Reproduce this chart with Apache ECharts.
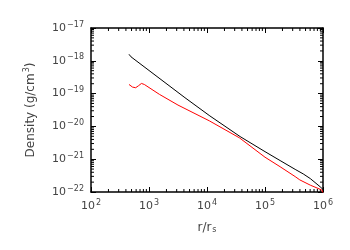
<!DOCTYPE html>
<html>
<head>
<meta charset="utf-8">
<script src="https://cdn.jsdelivr.net/npm/echarts@6/dist/echarts.min.js"></script>
<style>
  html, body { margin: 0; padding: 0; background: #fff; }
  #chart { width: 350px; height: 250px; }
</style>
</head>
<body>
<div id="chart"></div>
<script>
// radius in r_s, density in g/cm^3
var blackR   = [452, 490, 4170, 11200, 37200, 100000, 182000, 331000, 457000, 603000, 891000, 1000000];
var blackRho = [1.58e-18, 1.32e-18, 7.5e-20, 2.09e-20, 4.9e-21, 1.7e-21, 9.1e-22, 4.9e-22, 3.55e-22, 2.57e-22, 1.45e-22, 1.2e-22];

var redR   = [452, 520, 589, 660, 741, 830, 1510, 3160, 10960, 36300, 100000, 182000, 331000, 398000, 603000, 955000, 1000000];
var redRho = [1.9e-19, 1.58e-19, 1.51e-19, 1.74e-19, 2.04e-19, 1.9e-19, 9.5e-20, 4.47e-20, 1.48e-20, 4.47e-21, 1.15e-21, 5.9e-22, 2.95e-22, 2.34e-22, 1.62e-22, 1.15e-22, 9.3e-23];

var xTicks = [2, 3, 4, 5, 6];          // exponents of 10
var yTicks = [-22, -21, -20, -19, -18, -17];

// echarts' log scale loses values this small, so the y axis works in units of 1e-22 g/cm^3
var RHO_UNIT = 1e-22;
var RHO_EXP = -22;

var xMin = 1e2, xMax = 1e6, yMin = 1, yMax = 1e5;

function pairs (xs, ys) {
  var out = [];
  for (var i = 0; i < xs.length; i++) out.push([xs[i], ys[i] / RHO_UNIT]);
  return out;
}

function supText (e) {
  return String(e).replace('-', '\u2212');
}
function xLabel (v) {
  return '{b|10}{s|' + supText(Math.round(Math.log10(v))) + '}';
}
function yLabel (v) {
  return '{b|10}{s|' + supText(Math.round(Math.log10(v)) + RHO_EXP) + '}';
}

var FONT = 'DejaVu Sans';
var TXT = '#444';

var labelRich = {
  b: { fontSize: 11, fontFamily: FONT, color: TXT },
  s: { fontSize: 8, fontFamily: FONT, color: TXT, padding: [0, 0, 7, 1] }
};

var frameLine = { show: true, lineStyle: { color: '#000', width: 1.5 } };
var tickStyle = { show: true, inside: true, length: 5, lineStyle: { color: '#000', width: 1 } };

var chart = echarts.init(document.getElementById('chart'));

var option = {
  animation: false,
  backgroundColor: '#fff',
  grid: { left: 91, right: 27, top: 28, bottom: 58 },
  xAxis: [
    {
      type: 'log', logBase: 10, min: xMin, max: xMax,
      axisLine: frameLine, axisTick: tickStyle, splitLine: { show: false },
      axisLabel: { formatter: xLabel, rich: labelRich, margin: 7 },
      name: '{b|r/r}{s|s}', nameLocation: 'middle', nameGap: 30,
      nameTextStyle: {
        rich: {
          b: { fontSize: 12, fontFamily: FONT, color: TXT },
          s: { fontSize: 8, fontFamily: FONT, color: TXT, padding: [0, 0, -3, 1] }
        }
      }
    },
    {
      type: 'log', logBase: 10, min: xMin, max: xMax, position: 'top',
      axisLine: frameLine, axisTick: tickStyle, axisLabel: { show: false }, splitLine: { show: false }
    }
  ],
  yAxis: [
    {
      type: 'log', logBase: 10, min: yMin, max: yMax,
      axisLine: frameLine, axisTick: tickStyle, splitLine: { show: false },
      axisLabel: { formatter: yLabel, rich: labelRich, margin: 7 },
      name: '{b|Density (g/cm}{s|3}{b|)}', nameLocation: 'middle', nameGap: 52, nameRotate: 90,
      nameTextStyle: {
        rich: {
          b: { fontSize: 12, fontFamily: FONT, color: TXT },
          s: { fontSize: 8, fontFamily: FONT, color: TXT, padding: [0, 0, 8, 1] }
        }
      }
    },
    {
      type: 'log', logBase: 10, min: yMin, max: yMax, position: 'right',
      axisLine: frameLine, axisTick: tickStyle, axisLabel: { show: false }, splitLine: { show: false }
    }
  ],
  series: [
    {
      type: 'line', name: 'black', data: pairs(blackR, blackRho),
      showSymbol: false, symbol: 'none', smooth: false,
      lineStyle: { color: '#000', width: 1 }
    },
    {
      type: 'line', name: 'red', data: pairs(redR, redRho),
      showSymbol: false, symbol: 'none', smooth: false,
      lineStyle: { color: '#ff0000', width: 1 }
    }
  ]
};

chart.setOption(option);

// log minor ticks (2..9 per decade) on all four sides of the frame
var minor = [];
var i, k, p, q;
for (i = 0; i < xTicks.length - 1; i++) {
  for (k = 2; k <= 9; k++) {
    var xv = k * Math.pow(10, xTicks[i]);
    p = chart.convertToPixel({ xAxisIndex: 0, yAxisIndex: 0 }, [xv, yMin]);
    q = chart.convertToPixel({ xAxisIndex: 0, yAxisIndex: 0 }, [xv, yMax]);
    minor.push({ type: 'line', shape: { x1: p[0], y1: p[1], x2: p[0], y2: p[1] - 3 }, style: { stroke: '#000', lineWidth: 1 } });
    minor.push({ type: 'line', shape: { x1: q[0], y1: q[1], x2: q[0], y2: q[1] + 3 }, style: { stroke: '#000', lineWidth: 1 } });
  }
}
for (i = 0; i < yTicks.length - 1; i++) {
  for (k = 2; k <= 9; k++) {
    var yv = k * Math.pow(10, yTicks[i] - RHO_EXP);
    p = chart.convertToPixel({ xAxisIndex: 0, yAxisIndex: 0 }, [xMin, yv]);
    q = chart.convertToPixel({ xAxisIndex: 0, yAxisIndex: 0 }, [xMax, yv]);
    minor.push({ type: 'line', shape: { x1: p[0], y1: p[1], x2: p[0] + 3, y2: p[1] }, style: { stroke: '#000', lineWidth: 1 } });
    minor.push({ type: 'line', shape: { x1: q[0], y1: q[1], x2: q[0] - 3, y2: q[1] }, style: { stroke: '#000', lineWidth: 1 } });
  }
}
chart.setOption({ graphic: minor });
</script>
</body>
</html>
